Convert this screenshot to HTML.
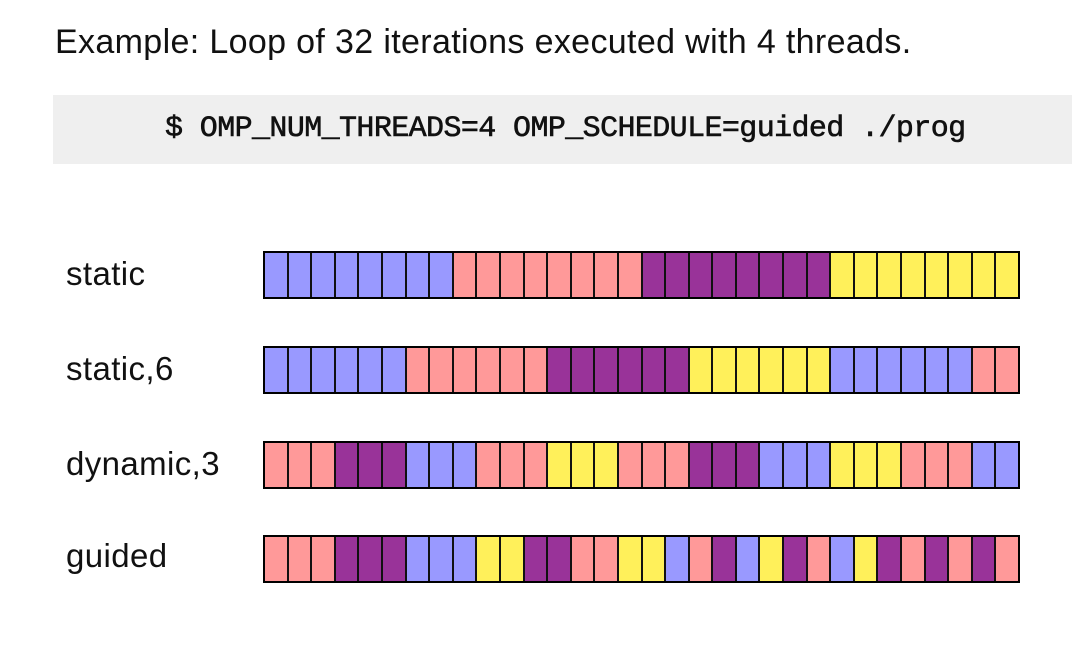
<!DOCTYPE html>
<html><head><meta charset="utf-8"><style>
body{margin:0;width:1088px;height:668px;background:#fff;position:relative;overflow:hidden;font-family:"Liberation Sans",sans-serif;}
.t{position:absolute;left:55px;top:23px;font-size:34px;color:#111;white-space:nowrap;letter-spacing:0.35px;}
.box{position:absolute;left:53px;top:95px;width:1019px;height:69px;background:#efefef;}
.code{position:absolute;left:165px;top:112px;font-family:"Liberation Mono",monospace;font-size:30px;letter-spacing:-0.6px;color:#111;white-space:nowrap;font-weight:normal;-webkit-text-stroke:0.6px #111;}
.lab{position:absolute;left:66px;font-size:33px;color:#111;letter-spacing:0.4px;}
.bar{position:absolute;left:263px;width:753px;height:44px;border:2px solid #000;display:flex;}
.bar i{flex:1;border-left:2px solid #111;}
.bar i:first-child{border-left:none;}
.b{background:#9999ff}.r{background:#ff9999}.p{background:#993399}.y{background:#fff05a}
</style></head><body>
<div class="t">Example: Loop of 32 iterations executed with 4 threads.</div>
<div class="box"></div>
<div class="code">$ OMP_NUM_THREADS=4 OMP_SCHEDULE=guided ./prog</div>
<div class="lab" style="top:255px">static</div>
<div class="lab" style="top:350px">static,6</div>
<div class="lab" style="top:445px">dynamic,3</div>
<div class="lab" style="top:537px">guided</div>
<div class="bar" style="top:251px"><i class="b"></i><i class="b"></i><i class="b"></i><i class="b"></i><i class="b"></i><i class="b"></i><i class="b"></i><i class="b"></i><i class="r"></i><i class="r"></i><i class="r"></i><i class="r"></i><i class="r"></i><i class="r"></i><i class="r"></i><i class="r"></i><i class="p"></i><i class="p"></i><i class="p"></i><i class="p"></i><i class="p"></i><i class="p"></i><i class="p"></i><i class="p"></i><i class="y"></i><i class="y"></i><i class="y"></i><i class="y"></i><i class="y"></i><i class="y"></i><i class="y"></i><i class="y"></i></div>
<div class="bar" style="top:346px"><i class="b"></i><i class="b"></i><i class="b"></i><i class="b"></i><i class="b"></i><i class="b"></i><i class="r"></i><i class="r"></i><i class="r"></i><i class="r"></i><i class="r"></i><i class="r"></i><i class="p"></i><i class="p"></i><i class="p"></i><i class="p"></i><i class="p"></i><i class="p"></i><i class="y"></i><i class="y"></i><i class="y"></i><i class="y"></i><i class="y"></i><i class="y"></i><i class="b"></i><i class="b"></i><i class="b"></i><i class="b"></i><i class="b"></i><i class="b"></i><i class="r"></i><i class="r"></i></div>
<div class="bar" style="top:441px"><i class="r"></i><i class="r"></i><i class="r"></i><i class="p"></i><i class="p"></i><i class="p"></i><i class="b"></i><i class="b"></i><i class="b"></i><i class="r"></i><i class="r"></i><i class="r"></i><i class="y"></i><i class="y"></i><i class="y"></i><i class="r"></i><i class="r"></i><i class="r"></i><i class="p"></i><i class="p"></i><i class="p"></i><i class="b"></i><i class="b"></i><i class="b"></i><i class="y"></i><i class="y"></i><i class="y"></i><i class="r"></i><i class="r"></i><i class="r"></i><i class="b"></i><i class="b"></i></div>
<div class="bar" style="top:535px"><i class="r"></i><i class="r"></i><i class="r"></i><i class="p"></i><i class="p"></i><i class="p"></i><i class="b"></i><i class="b"></i><i class="b"></i><i class="y"></i><i class="y"></i><i class="p"></i><i class="p"></i><i class="r"></i><i class="r"></i><i class="y"></i><i class="y"></i><i class="b"></i><i class="r"></i><i class="p"></i><i class="b"></i><i class="y"></i><i class="p"></i><i class="r"></i><i class="b"></i><i class="y"></i><i class="p"></i><i class="r"></i><i class="p"></i><i class="r"></i><i class="p"></i><i class="r"></i></div>
</body></html>
